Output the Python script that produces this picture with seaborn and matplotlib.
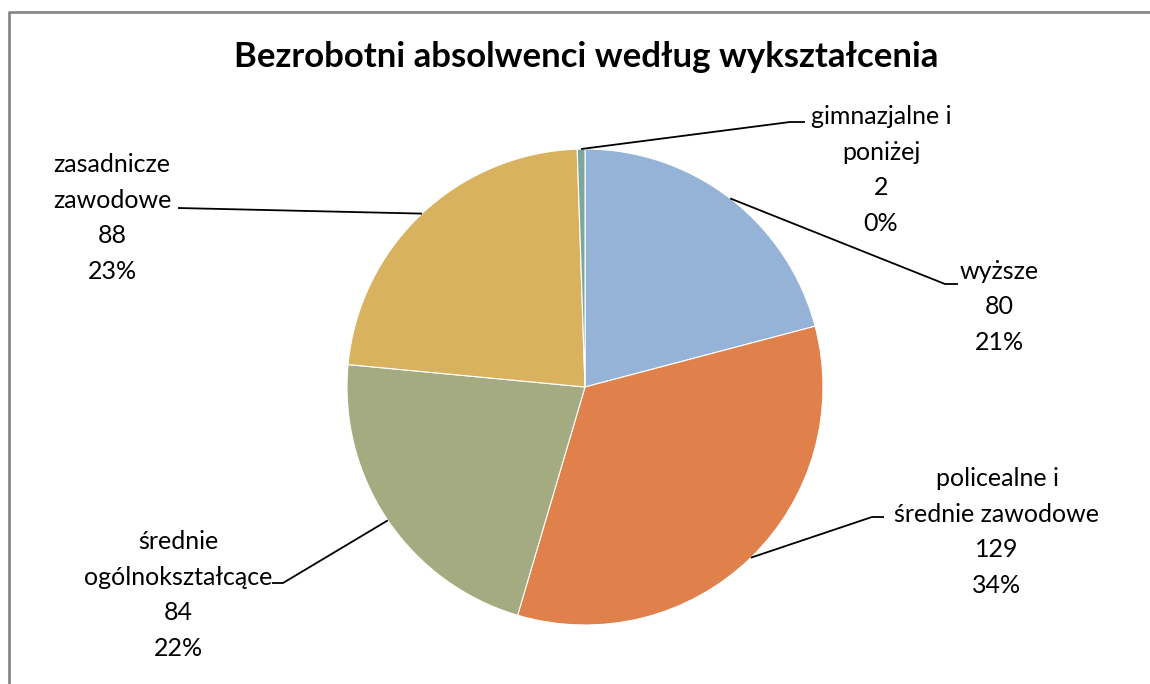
"""
Bezrobotni absolwenci według wykształcenia — pie chart with leader-line labels.
"""

import numpy as np
import matplotlib.pyplot as plt
import seaborn as sns

# data (clockwise from 12 o'clock)
categories = ["wyższe", "policealne i\nśrednie zawodowe", "średnie\nogólnokształcące",
              "zasadnicze\nzawodowe", "gimnazjalne i\nponiżej"]
values = [80, 129, 84, 88, 2]
pct_labels = ["21%", "34%", "22%", "23%", "0%"]
colors = ["#95B3D7", "#E0804A", "#A4AB80", "#D8B25F", "#7BA79D"]

W, H = 1150, 684

sns.set_theme(style="white")
plt.rcParams["font.family"] = ["Lato", "DejaVu Sans"]


def py(y):
    # layout numbers are measured from the top of the picture
    return H - y


# layout: text centre and leader-line elbow (pixels from top-left)
text_pos = [(999, 307), (997, 532), (178, 595), (112, 218), (881, 170)]
elbows = [[(945, 284), (958, 284)],
          [(872, 517), (884, 517)],
          [(283, 583), (272, 583)],
          [(178, 208)],
          [(790, 122), (805, 122)]]

center = (585, py(387))
radius = 238

fig = plt.figure(figsize=(W / 100, H / 100), dpi=100)
ax = fig.add_axes([0, 0, 1, 1])

wedges, _ = ax.pie(values, colors=colors, startangle=90, counterclock=False,
                   center=center, radius=radius,
                   wedgeprops={"edgecolor": "white", "linewidth": 0.8})
ax.set_xlim(0, W)
ax.set_ylim(0, H)
ax.set_aspect("equal")
ax.axis("off")

for w, name, val, pct, (tx, ty), elb in zip(wedges, categories, values,
                                             pct_labels, text_pos, elbows):
    mid = np.deg2rad((w.theta1 + w.theta2) / 2)
    ax0 = center[0] + radius * np.cos(mid)
    ay0 = center[1] + radius * np.sin(mid)
    xs = [ax0] + [p[0] for p in elb]
    ys = [ay0] + [py(p[1]) for p in elb]
    ax.plot(xs, ys, color="black", lw=1.3, solid_capstyle="butt")
    ax.text(tx, py(ty), f"{name}\n{val}\n{pct}", ha="center", va="center",
            multialignment="center", fontsize=18, linespacing=1.65, color="black")

ax.text(586, py(57), "Bezrobotni absolwenci według wykształcenia", ha="center",
        va="center", fontsize=25, fontweight="bold", color="black")

# chart frame (runs off the right and bottom edges)
ax.plot([9, 9, W + 10], [-10, py(12), py(12)], color="#888888", lw=2,
        clip_on=False)

fig.savefig("out.png", dpi=100)
